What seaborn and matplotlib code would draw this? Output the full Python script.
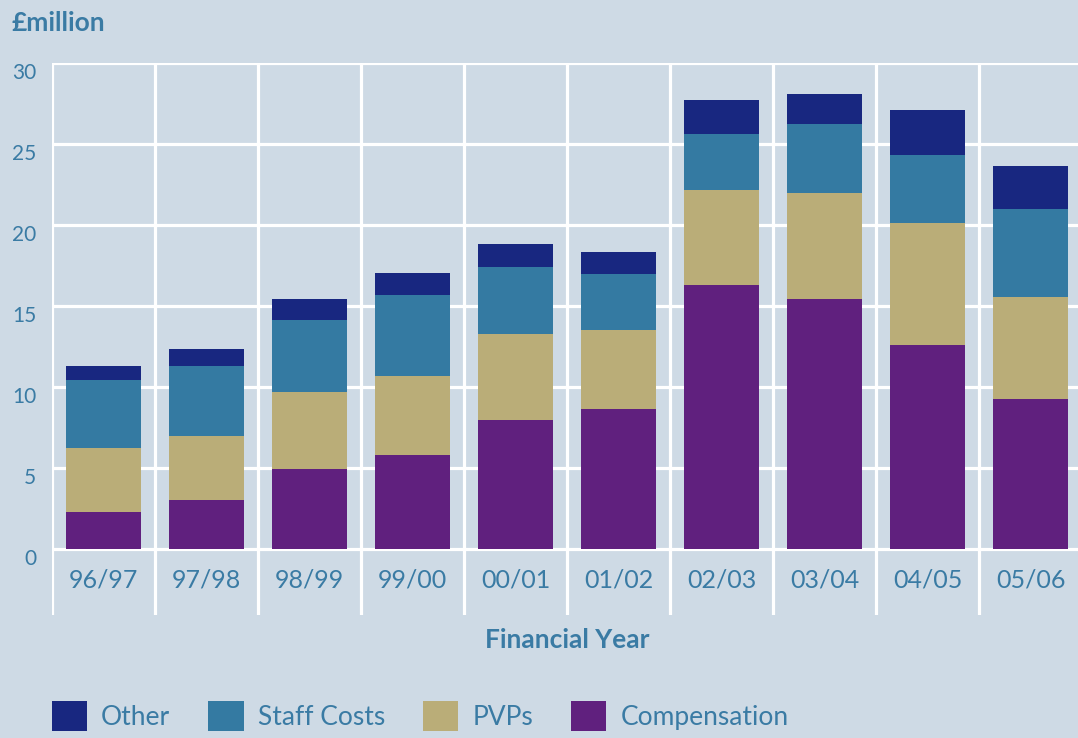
import numpy as np
import pandas as pd
import matplotlib.pyplot as plt
import seaborn as sns
from matplotlib.patches import Patch

# ------------------------------------------------------
# Data (£million)
# ------------------------------------------------------

years = ["96/97", "97/98", "98/99", "99/00", "00/01",
         "01/02", "02/03", "03/04", "04/05", "05/06"]

compensation = [2.3, 3.0, 4.95, 5.8, 7.95, 8.65, 16.3, 15.45, 12.6, 9.25]
pvps = [3.95, 4.0, 4.75, 4.9, 5.3, 4.9, 5.85, 6.55, 7.5, 6.3]
staff_costs = [4.2, 4.3, 4.45, 5.0, 4.15, 3.45, 3.45, 4.25, 4.2, 5.45]
other = [0.85, 1.05, 1.3, 1.35, 1.45, 1.35, 2.1, 1.85, 2.8, 2.65]

series_names = ["Compensation", "PVPs", "Staff Costs", "Other"]
series_colors = ["#60207e", "#baad78", "#347aa2", "#182780"]

bg = "#cedae5"
text_col = "#3a7ba4"

df = pd.DataFrame({
    "year": years,
    "Compensation": compensation,
    "PVPs": pvps,
    "Staff Costs": staff_costs,
    "Other": other,
})

# cumulative tops for the stacked look
cum = df[series_names].cumsum(axis=1)
cum["year"] = df["year"]

# ------------------------------------------------------
# Figure
# ------------------------------------------------------

sns.set_theme(style="white")
plt.rcParams["font.family"] = ["Lato", "DejaVu Sans"]

fig = plt.figure(figsize=(10.78, 7.38), dpi=100, facecolor=bg)
ax = fig.add_axes([52 / 1078, 123 / 738, 1 - 52 / 1078, 552 / 738])
ax.set_facecolor(bg)

# draw tallest layer first, each lower layer on top of it
for name, color in reversed(list(zip(series_names, series_colors))):
    sns.barplot(data=cum, x="year", y=name, color=color, saturation=1,
                width=0.73, errorbar=None, ax=ax, zorder=2,
                linewidth=0, edgecolor="none")

ax.set_xlim(-0.5, 9.46)
ax.set_ylim(-4.07, 30)

# white grid
yticks = np.arange(0, 31, 5)
for y in yticks:
    ax.axhline(y, color="white", lw=2.3, zorder=1)
for x in np.arange(-0.5, len(years)):
    ax.axvline(x, color="white", lw=2.3, zorder=1)

for s in ax.spines.values():
    s.set_visible(False)

ax.set_xticks([])
ax.set_xlabel("")
ax.set_ylabel("")
ax.set_yticks(yticks)
ax.set_yticklabels([str(v) for v in yticks])
ax.tick_params(axis="y", length=0, pad=11.5, labelsize=15, labelcolor=text_col)
plt.setp(ax.get_yticklabels(), va="top")

# category labels sit inside the boxes under the zero line
for i, yr in enumerate(years):
    ax.text(i, -1.9, yr, ha="center", va="center", fontsize=18,
            color=text_col, zorder=3)

fig.text(12 / 1078, 1 - 23 / 738, "£million", fontsize=19, weight="bold",
         color=text_col, va="center", ha="left")
fig.text(567 / 1078, 1 - 640 / 738, "Financial Year", fontsize=19,
         weight="bold", color=text_col, va="center", ha="center")

legend_order = ["Other", "Staff Costs", "PVPs", "Compensation"]
color_map = dict(zip(series_names, series_colors))
handles = [Patch(facecolor=color_map[n], edgecolor="none", label=n)
           for n in legend_order]
fig.legend(handles=handles, loc="center left",
           bbox_to_anchor=(52 / 1078, 1 - 716 / 738), ncol=4, frameon=False,
           fontsize=19, handlelength=1.33, handleheight=1.33,
           handletextpad=0.53, columnspacing=1.45, borderpad=0,
           borderaxespad=0, labelcolor=text_col)

fig.savefig("out.png", dpi=100, facecolor=bg)
